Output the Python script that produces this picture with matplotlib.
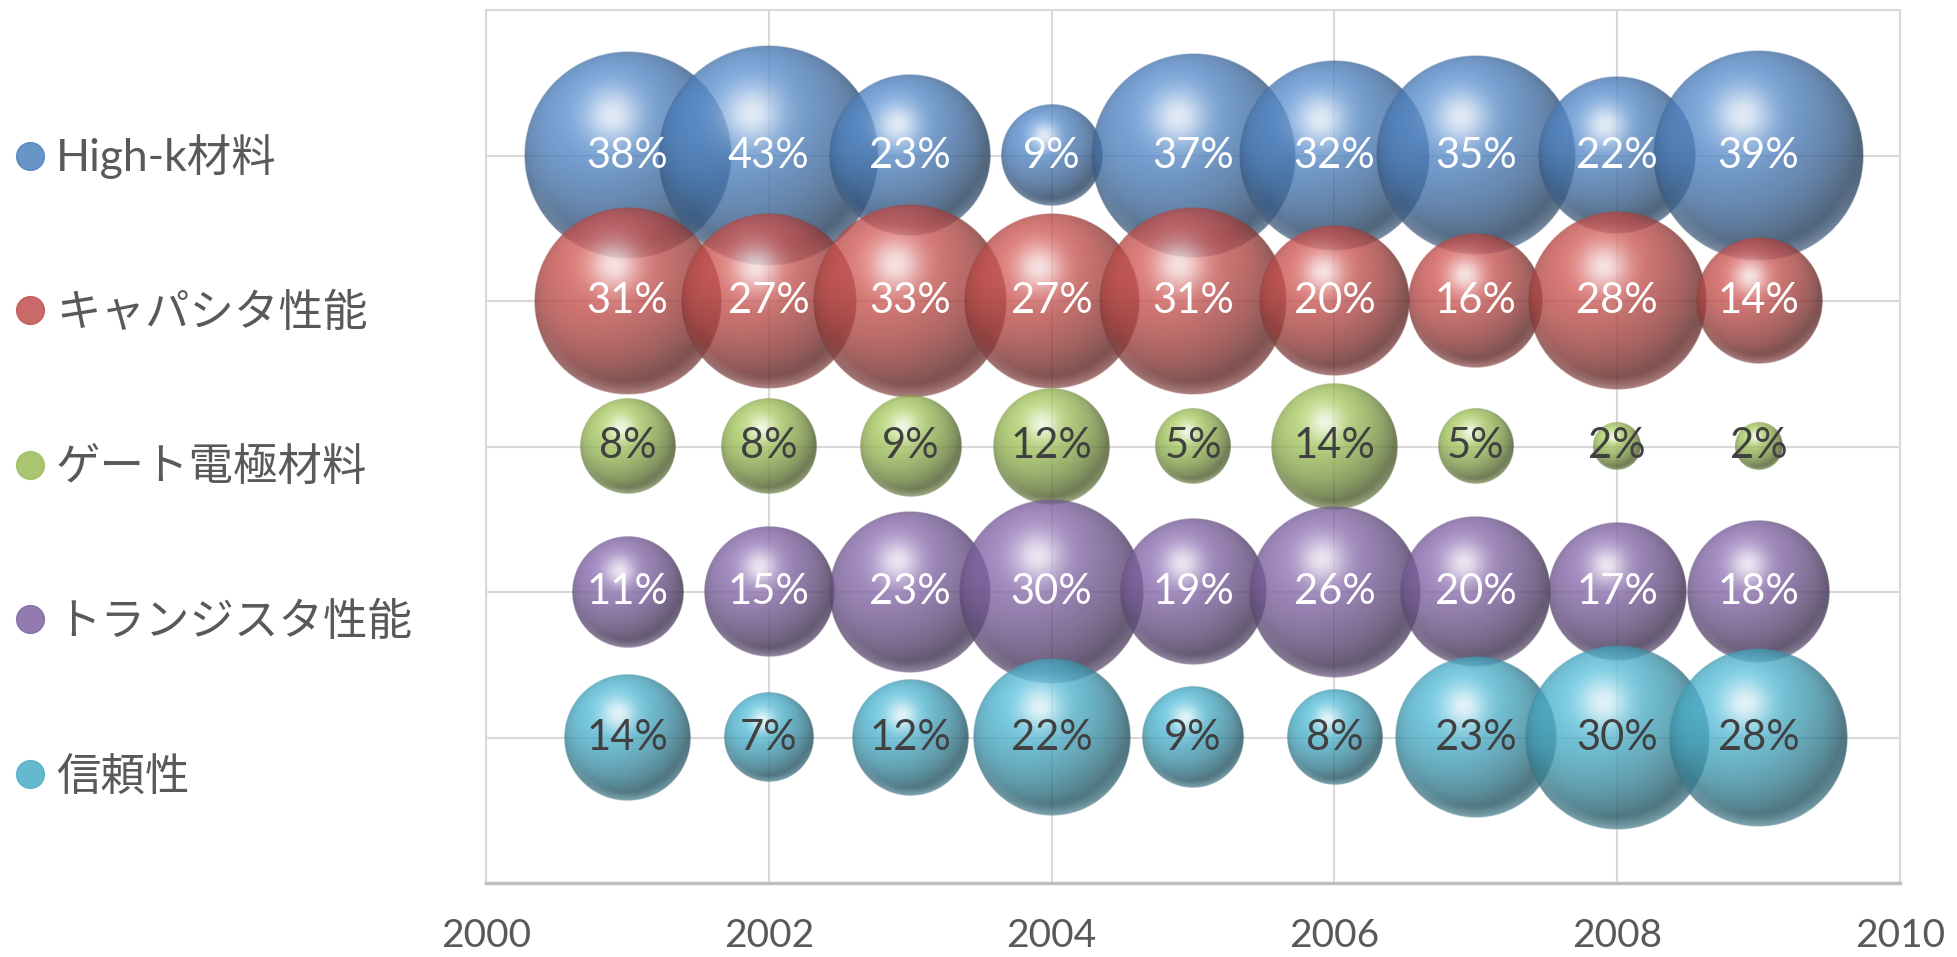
import matplotlib
matplotlib.use("Agg")
import matplotlib.pyplot as plt
from matplotlib.lines import Line2D
import numpy as np

plt.rcParams['font.family'] = ['Lato', 'Noto Sans CJK JP', 'DejaVu Sans']

# data
years = [2001, 2002, 2003, 2004, 2005, 2006, 2007, 2008, 2009]
series_names = ["High-k材料", "キャパシタ性能", "ゲート電極材料", "トランジスタ性能", "信頼性"]
row_pos = [5, 4, 3, 2, 1]
highk = [38, 43, 23, 9, 37, 32, 35, 22, 39]
capacitor = [31, 27, 33, 27, 31, 20, 16, 28, 14]
gate = [8, 8, 9, 12, 5, 14, 5, 2, 2]
transistor = [11, 15, 23, 30, 19, 26, 20, 17, 18]
reliability = [14, 7, 12, 22, 9, 8, 23, 30, 28]
all_values = [highk, capacitor, gate, transistor, reliability]

colors = ["#4F81BD", "#C0504D", "#9BBB59", "#8064A2", "#4BACC6"]
label_colors = ["white", "white", "#404040", "white", "#404040"]

fig_w, fig_h, dpi = 1957, 957, 100
fig = plt.figure(figsize=(fig_w / dpi, fig_h / dpi), dpi=dpi)
ax_rect = [486 / fig_w, 74 / fig_h, 1414 / fig_w, 873 / fig_h]
ax = fig.add_axes(ax_rect)

x_min, x_max = 2000, 2010
y_min, y_max = 0, 6
ax_w_px = ax_rect[2] * fig_w
ax_h_px = ax_rect[3] * fig_h
# Excel-style: largest bubble ~25% of the plot height, area proportional to value
max_diam_px = 0.253 * ax_h_px
vmax = max(max(v) for v in all_values)


def hex_rgb(h):
    h = h.lstrip('#')
    return np.array([int(h[i:i + 2], 16) / 255 for i in (0, 2, 4)])


def sphere_texture(hexcol, n=300, alpha=0.8):
    base = hex_rgb(hexcol)
    t = np.linspace(-1, 1, n)
    u, v = np.meshgrid(t, -t)
    r = np.sqrt(u ** 2 + v ** 2)
    z = np.sqrt(np.clip(1 - r ** 2, 0, 1))
    L = np.array([-0.3, 0.5, 0.82])
    L = L / np.linalg.norm(L)
    diff = np.clip(u * L[0] + v * L[1] + z * L[2], 0, 1)
    col = base[None, None, :] * (0.5 + 0.62 * diff[..., None])
    # soft glossy highlight near the top
    d2 = (u + 0.15) ** 2 + (v - 0.38) ** 2
    spec = np.exp(-d2 / (2 * 0.19 ** 2))
    light = base + (1 - base) * 0.92
    col = col + (light - col) * spec[..., None] * 0.85
    # light rim at the bottom edge
    rim = np.clip((r - 0.86) / 0.14, 0, 1) * np.clip(-v - 0.2, 0, 1)
    rimcol = base + (1 - base) * 0.5
    col = col + (rimcol - col) * rim[..., None] * 0.6
    col = np.clip(col, 0, 1)
    a = alpha * np.clip((1 - r) * n / 2, 0, 1)
    return np.dstack([col, a])


for i, (name, vals) in enumerate(zip(series_names, all_values)):
    tex = sphere_texture(colors[i])
    y = row_pos[i]
    for x, val in zip(years, vals):
        d_px = max_diam_px * np.sqrt(val / vmax)
        rx = d_px / 2 / ax_w_px * (x_max - x_min)
        ry = d_px / 2 / ax_h_px * (y_max - y_min)
        ax.imshow(tex, extent=(x - rx, x + rx, y - ry, y + ry), origin='upper',
                  aspect='auto', interpolation='bilinear', zorder=3 + i)
    for x, val in zip(years, vals):
        ax.text(x, y, f"{val}%", ha='center', va='center', fontsize=30,
                color=label_colors[i], zorder=20)

ax.set_xlim(x_min, x_max)
ax.set_ylim(y_min, y_max)
ax.set_xticks(range(2000, 2011, 2))
ax.set_yticks(range(0, 7))
ax.set_yticklabels([])
ax.grid(True, color="#D9D9D9", linewidth=1.5, zorder=0)
ax.set_axisbelow(True)
ax.tick_params(axis='both', length=0, labelsize=28, labelcolor="#595959", pad=25)
for side in ['left', 'top', 'right']:
    ax.spines[side].set_color("#D9D9D9")
    ax.spines[side].set_linewidth(1.5)
ax.spines['bottom'].set_color("#BFBFBF")
ax.spines['bottom'].set_linewidth(2.5)

handles = [Line2D([], [], linestyle='none', marker='o', markersize=20,
                  markerfacecolor=c, markeredgecolor=c, alpha=0.85) for c in colors]
fig.legend(handles, series_names, loc='center left',
           bbox_to_anchor=(16 / fig_w, 1 - 466 / fig_h), frameon=False,
           fontsize=32, labelcolor="#595959", labelspacing=2.55,
           handlelength=0.65, handletextpad=0.25, borderpad=0, borderaxespad=0)

fig.savefig("out.png", dpi=dpi)
